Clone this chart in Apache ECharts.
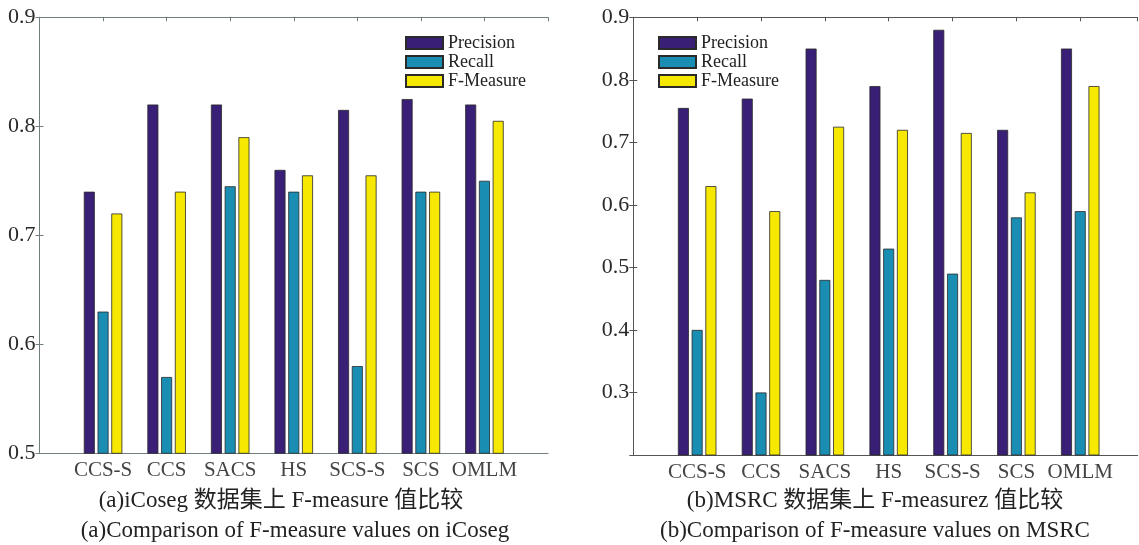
<!DOCTYPE html>
<html>
<head>
<meta charset="utf-8">
<title>F-measure comparison</title>
<script src="https://cdn.jsdelivr.net/npm/echarts@6/dist/echarts.min.js"></script>
<style>
  html, body { margin: 0; padding: 0; background: #ffffff; }
  #chart { width: 1139px; height: 545px; }
</style>
</head>
<body>
<div id="chart"></div>
<script>
// Methods compared on each dataset
const categories = ['CCS-S', 'CCS', 'SACS', 'HS', 'SCS-S', 'SCS', 'OMLM'];
const seriesNames = ['Precision', 'Recall', 'F-Measure'];

// iCoseg results
const icosegPrecision = [0.74, 0.82, 0.82, 0.76, 0.815, 0.825, 0.82];
const icosegRecall    = [0.63, 0.57, 0.745, 0.74, 0.58, 0.74, 0.75];
const icosegFMeasure  = [0.72, 0.74, 0.79, 0.755, 0.755, 0.74, 0.805];

// MSRC results
const msrcPrecision = [0.755, 0.77, 0.85, 0.79, 0.88, 0.72, 0.85];
const msrcRecall    = [0.40, 0.30, 0.48, 0.53, 0.49, 0.58, 0.59];
const msrcFMeasure  = [0.63, 0.59, 0.725, 0.72, 0.715, 0.62, 0.79];

// Panel captions
const captionA1 = '(a)iCoseg 数据集上 F-measure 值比较';
const captionA2 = '(a)Comparison of F-measure values on iCoseg';
const captionB1 = '(b)MSRC 数据集上 F-measurez 值比较';
const captionB2 = '(b)Comparison of F-measure values on MSRC';

const colors = ['#3a1f76', '#1a8db3', '#f6e800'];
const serif = "'Liberation Serif', 'Times New Roman', serif";
const captionFont = "'Liberation Serif', 'Noto Sans CJK SC', serif";

// Categories sit at x = 1..7 on a numeric axis, leaving one slot of margin on each side
const toPoints = vals => vals.map((v, i) => [i + 1, v]);
const catLabel = v => {
  const k = Math.round(v);
  return (Math.abs(v - k) < 1e-6 && k >= 1 && k <= categories.length) ? categories[k - 1] : '';
};

function frameAxes(gridIndex, lineColor, yMin, yMax, xMax) {
  const line = { show: true, lineStyle: { color: lineColor, width: 1 } };
  const tick = { show: true, inside: true, length: 4, lineStyle: { color: lineColor, width: 1 } };
  const xBottom = {
    type: 'value', gridIndex, position: 'bottom', min: 0, max: xMax, interval: 1,
    axisLine: line, axisTick: tick, splitLine: { show: false },
    axisLabel: {
      formatter: catLabel, margin: 7, fontSize: 21, fontFamily: serif, color: '#444',
      showMinLabel: true, showMaxLabel: false
    }
  };
  const xTop = {
    type: 'value', gridIndex, position: 'top', min: 0, max: xMax, interval: 1,
    axisLine: line, axisTick: tick, splitLine: { show: false }, axisLabel: { show: false }
  };
  const yLeft = {
    type: 'value', gridIndex, position: 'left', min: yMin, max: yMax, interval: 0.1,
    axisLine: line, axisTick: tick, splitLine: { show: false },
    axisLabel: {
      formatter: v => v.toFixed(1), margin: 4, fontSize: 22, fontFamily: serif, color: '#2a2a2a',
      showMinLabel: yMin >= 0.5
    }
  };
  const yRight = {
    type: 'value', gridIndex, position: 'right', min: yMin, max: yMax, interval: 0.1,
    axisLine: line, axisTick: tick, splitLine: { show: false }, axisLabel: { show: false }
  };
  return { x: [xBottom, xTop], y: [yLeft, yRight] };
}

const leftAxes = frameAxes(0, '#6f7f7f', 0.5, 0.9, 8);
const rightAxes = frameAxes(1, '#555555', 0.2, 0.9, 7.9);

function barSeries(name, values, color, axisIndex) {
  return {
    type: 'bar', name, data: toPoints(values),
    xAxisIndex: axisIndex, yAxisIndex: axisIndex,
    barWidth: 11, barGap: '25%',
    itemStyle: { color, borderColor: '#2a2a2a', borderWidth: 0.8 },
    emphasis: { disabled: true }
  };
}

const legendBase = {
  orient: 'vertical', padding: 0, itemWidth: 37, itemHeight: 12, itemGap: 1,
  icon: 'rect', selectedMode: false, data: seriesNames,
  textStyle: { fontFamily: serif, fontSize: 18, color: '#222', lineHeight: 16 }
};

const captionText = (text, x, y) => ({
  type: 'text', x, y,
  style: { text, font: '23px ' + captionFont, fill: '#222', align: 'center', verticalAlign: 'middle' }
});

const chart = echarts.init(document.getElementById('chart'), null, { renderer: 'canvas' });
chart.setOption({
  animation: false,
  backgroundColor: '#ffffff',
  color: colors,
  grid: [
    { left: 39.5, top: 17.3, width: 508.5, height: 436 },
    { left: 633.3, top: 17.3, width: 504.4, height: 437.7 }
  ],
  xAxis: [...leftAxes.x, ...rightAxes.x],
  yAxis: [...leftAxes.y, ...rightAxes.y],
  legend: [
    Object.assign({}, legendBase, { left: 405, top: 34 }),
    Object.assign({}, legendBase, { left: 658, top: 34 })
  ],
  series: [
    barSeries(seriesNames[0], icosegPrecision, colors[0], 0),
    barSeries(seriesNames[1], icosegRecall, colors[1], 0),
    barSeries(seriesNames[2], icosegFMeasure, colors[2], 0),
    barSeries(seriesNames[0], msrcPrecision, colors[0], 2),
    barSeries(seriesNames[1], msrcRecall, colors[1], 2),
    barSeries(seriesNames[2], msrcFMeasure, colors[2], 2)
  ],
  graphic: [
    captionText(captionA1, 281, 501),
    captionText(captionA2, 295, 531),
    captionText(captionB1, 875, 501),
    captionText(captionB2, 875, 531)
  ]
});
</script>
</body>
</html>
